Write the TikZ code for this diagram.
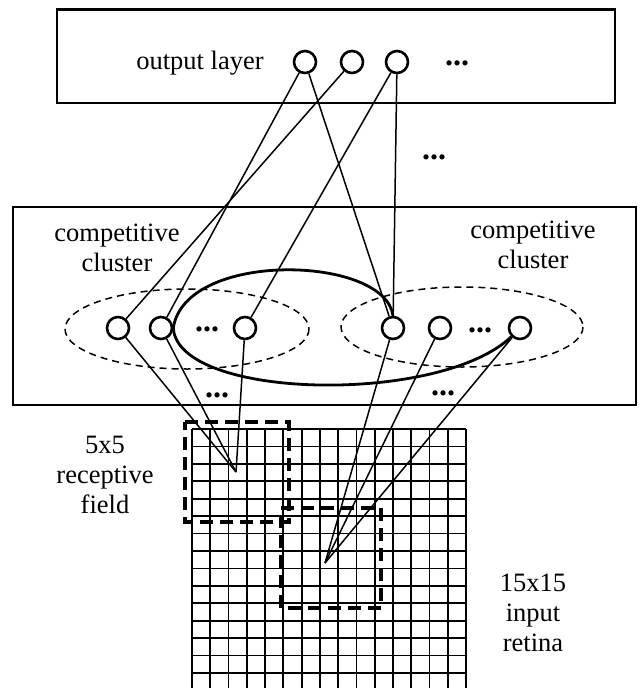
\documentclass[tikz,border=0pt]{standalone}
\usepackage{fontspec}
\setmainfont{Liberation Serif}

\tikzset{
  neuron/.style={circle,draw,line width=2.6pt,minimum size=22pt,inner sep=0pt},
  lbl/.style={font=\fontsize{26.5}{30}\selectfont,align=center,inner sep=0pt},
  ellip/.style={font=\fontsize{32}{30}\selectfont\bfseries,inner sep=0pt},
  link/.style={line width=1.5pt},
  layerbox/.style={line width=2.2pt},
  cluster/.style={line width=1.5pt,dash pattern=on 7pt off 5pt},
  rfield/.style={line width=3.2pt,dash pattern=on 13pt off 7pt},
  cell/.style={line width=1.8pt}
}

\begin{document}
\begin{tikzpicture}[x=1pt,y=1pt,yscale=-1,xscale=1]
\useasboundingbox (0,0) rectangle (643,688);

%Shape: Rectangle (output layer)
\draw[layerbox] (57,9.5) -- (615,9.5) -- (615,103) -- (57,103) -- cycle ;
%Shape: Rectangle (competitive layer)
\draw[layerbox] (13,207) -- (636,207) -- (636,405) -- (13,405) -- cycle ;

%Shape: Ellipse (clusters)
\draw[cluster] (187,329) ellipse [x radius=122, y radius=40] ;
\draw[cluster] (462,327) ellipse [x radius=121, y radius=40] ;

% Output units
\node[neuron] (out1) at (305,62) {};
\node[neuron] (out2) at (352,62) {};
\node[neuron] (out3) at (397,62) {};

% Competitive units
\node[neuron] (c1) at (118,328) {};
\node[neuron] (c2) at (161,328) {};
\node[neuron] (c3) at (245,328) {};
\node[neuron] (c4) at (393,328) {};
\node[neuron] (c5) at (440,328) {};
\node[neuron] (c6) at (520,328) {};

% Retina grid 15x15
\foreach \i in {0,...,15}
  \draw[cell] (192+\i*18.27,429) -- (192+\i*18.27,692) ;
\foreach \j in {0,...,14}
  \draw[cell] (192,429+\j*17.43) -- (466,429+\j*17.43) ;

%Shape: Rectangle (receptive fields)
\draw[rfield] (185,422) -- (289,422) -- (289,522) -- (185,522) -- cycle ;
\draw[rfield] (281,508) -- (381,508) -- (381,608) -- (281,608) -- cycle ;

\coordinate (rf1) at (236,472);
\coordinate (rf2) at (325,563);

%Straight Lines (output to competitive)
\draw[link] (out1) -- (c2) ;
\draw[link] (out1) -- (c4) ;
\draw[link] (out2) -- (c1) ;
\draw[link] (out3) -- (c3) ;
\draw[link] (out3) -- (c4) ;

%Straight Lines (competitive to retina)
\draw[link] (c1) -- (rf1) ;
\draw[link] (c2) -- (rf1) ;
\draw[link] (c3) -- (rf1) ;
\draw[link] (c4) -- (rf2) ;
\draw[link] (c5) -- (rf2) ;
\draw[link] (c6) -- (rf2) ;

%Curve (lateral connections)
\draw[line width=2.8pt] (c4.north) .. controls (385,255) and (185,250) .. (c2.east) .. controls (178,400) and (440,405) .. (c6.south west) ;

% Text Node
\node[lbl] (outlbl) at (200,63) {output layer};
% Text Node
\node[lbl] (clus1) at (117,248) {competitive\\cluster};
% Text Node
\node[lbl] (clus2) at (533,245) {competitive\\cluster};
% Text Node
\node[lbl] (rflbl) at (105,475) {5x5\\receptive\\field};
% Text Node
\node[lbl] (retlbl) at (533,613) {15x15\\input\\retina};

% Dots
\node[ellip] (d1) at (457,63) {...};
\node[ellip] (d2) at (434,157) {...};
\node[ellip] (d3) at (207,329) {...};
\node[ellip] (d4) at (480,330) {...};
\node[ellip] (d5) at (217,395) {...};
\node[ellip] (d6) at (443,393) {...};

\end{tikzpicture}
\end{document}
